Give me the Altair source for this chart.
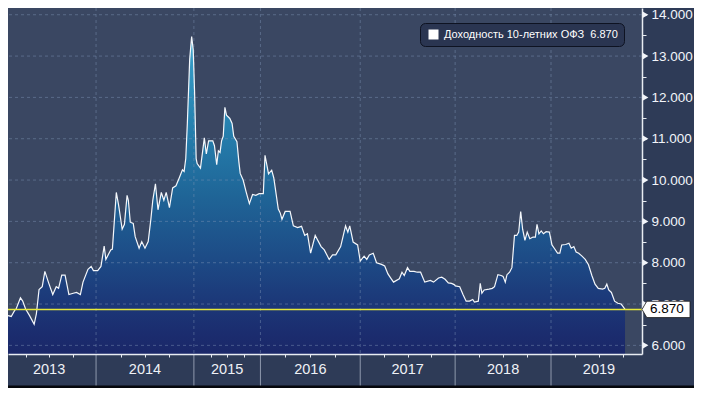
import altair as alt
import pandas as pd

# ---- data (fractional year, yield %) ----
T_2013 = [2013.063, 2013.097, 2013.132, 2013.149, 2013.195, 2013.219, 2013.250, 2013.292, 2013.341, 2013.365,
          2013.393, 2013.427, 2013.455, 2013.497, 2013.539, 2013.576, 2013.601, 2013.635, 2013.670, 2013.711,
          2013.757, 2013.792, 2013.833, 2013.861, 2013.914, 2013.948, 2013.972]
V_2013 = [6.72, 6.70, 6.84, 6.88, 7.15, 7.07, 6.88, 6.72, 6.51, 6.77,
          7.35, 7.42, 7.79, 7.50, 7.23, 7.42, 7.38, 7.70, 7.70, 7.23,
          7.26, 7.28, 7.23, 7.53, 7.84, 7.91, 7.81]
T_2014 = [2014.017, 2014.050, 2014.083, 2014.100, 2014.150, 2014.167, 2014.207, 2014.230, 2014.267, 2014.290,
          2014.317, 2014.330, 2014.350, 2014.380, 2014.400, 2014.440, 2014.467, 2014.500, 2014.533, 2014.560,
          2014.580, 2014.607, 2014.633, 2014.667, 2014.693, 2014.717, 2014.750, 2014.783, 2014.817, 2014.850,
          2014.883, 2014.900, 2014.917, 2014.933, 2014.957, 2014.977, 2014.993]
V_2014 = [7.81, 7.91, 8.40, 8.08, 8.31, 8.33, 9.70, 9.40, 8.81, 8.93,
          9.63, 9.51, 8.98, 8.95, 8.63, 8.35, 8.51, 8.35, 8.51, 9.05,
          9.51, 9.91, 9.28, 9.70, 9.51, 9.70, 9.33, 9.81, 9.86, 10.05,
          10.25, 10.21, 10.52, 11.37, 12.92, 13.47, 13.16]
T_2015 = [2015.010, 2015.034, 2015.049, 2015.099, 2015.157, 2015.187, 2015.221, 2015.284, 2015.309, 2015.343,
          2015.368, 2015.393, 2015.416, 2015.441, 2015.466, 2015.490, 2015.540, 2015.574, 2015.599, 2015.647,
          2015.676, 2015.696, 2015.740, 2015.784, 2015.834, 2015.882, 2015.931, 2015.981]
V_2015 = [12.15, 10.52, 10.40, 10.29, 11.02, 10.63, 10.95, 10.95, 10.83, 10.37,
          10.71, 10.67, 10.95, 11.06, 11.76, 11.57, 11.49, 11.37, 11.06, 10.93,
          10.44, 10.16, 10.00, 9.72, 9.43, 9.65, 9.63, 9.67]
T_2016 = [2016.020, 2016.029, 2016.046, 2016.081, 2016.113, 2016.134, 2016.179, 2016.199, 2016.216, 2016.248,
          2016.297, 2016.330, 2016.373, 2016.412, 2016.444, 2016.471, 2016.503, 2016.549, 2016.608, 2016.640,
          2016.689, 2016.723, 2016.755, 2016.804, 2016.853, 2016.876, 2016.895, 2016.929, 2016.974]
V_2016 = [9.67, 9.67, 10.60, 10.15, 10.24, 10.05, 9.30, 9.20, 9.05, 9.24,
          9.24, 8.89, 8.85, 8.88, 8.66, 8.70, 8.23, 8.66, 8.39, 8.31,
          8.08, 8.19, 8.19, 8.39, 8.89, 8.74, 8.89, 8.50, 8.43]
T_2017 = [2017.000, 2017.041, 2017.069, 2017.096, 2017.137, 2017.172, 2017.224, 2017.258, 2017.292, 2017.327,
          2017.351, 2017.412, 2017.440, 2017.464, 2017.498, 2017.523, 2017.567, 2017.601, 2017.636, 2017.680,
          2017.739, 2017.773, 2017.825, 2017.859, 2017.894, 2017.928, 2017.962, 2017.990]
V_2017 = [8.04, 8.16, 8.08, 8.19, 8.23, 8.00, 7.96, 7.92, 7.73, 7.61,
          7.53, 7.61, 7.77, 7.69, 7.88, 7.79, 7.79, 7.77, 7.77, 7.53,
          7.57, 7.53, 7.63, 7.65, 7.60, 7.51, 7.50, 7.47]
T_2018 = [2018.003, 2018.048, 2018.082, 2018.115, 2018.150, 2018.184, 2018.201, 2018.242, 2018.262, 2018.279,
          2018.303, 2018.354, 2018.388, 2018.411, 2018.446, 2018.480, 2018.500, 2018.523, 2018.541, 2018.568,
          2018.592, 2018.619, 2018.643, 2018.663, 2018.684, 2018.704, 2018.728, 2018.752, 2018.779, 2018.813,
          2018.837, 2018.854, 2018.874, 2018.898, 2018.921, 2018.949, 2018.983]
V_2018 = [7.44, 7.42, 7.23, 7.07, 7.07, 7.11, 7.05, 7.07, 7.50, 7.26,
          7.34, 7.36, 7.38, 7.42, 7.71, 7.69, 7.67, 7.53, 7.71, 7.77,
          7.88, 8.66, 8.66, 8.74, 9.24, 8.81, 8.54, 8.74, 8.58, 8.62,
          8.62, 8.93, 8.70, 8.77, 8.70, 8.75, 8.74]
T_2019 = [2019.010, 2019.034, 2019.068, 2019.092, 2019.112, 2019.153, 2019.187, 2019.211, 2019.238, 2019.262,
          2019.289, 2019.323, 2019.357, 2019.391, 2019.426, 2019.459, 2019.493, 2019.538, 2019.561, 2019.582,
          2019.602, 2019.630, 2019.663, 2019.697, 2019.731, 2019.748, 2019.772]
V_2019 = [8.43, 8.35, 8.23, 8.23, 8.43, 8.44, 8.47, 8.35, 8.39, 8.26,
          8.23, 8.16, 8.08, 7.95, 7.69, 7.48, 7.38, 7.36, 7.38, 7.48,
          7.34, 7.28, 7.07, 7.02, 7.00, 6.95, 6.87]

YEARS = [2013, 2014, 2015, 2016, 2017, 2018, 2019]
YEAR_LABELS = ["2013", "2014", "2015", "2016", "2017", "2018", "2019"]
YEAR_BOUNDS = [2014, 2015, 2016, 2017, 2018, 2019]
Y_MAJOR = [6, 7, 8, 9, 10, 11, 12, 13, 14]
Y_MINOR = [6, 6.5, 7, 7.5, 8, 8.5, 9, 9.5, 10, 10.5, 11, 11.5, 12, 12.5, 13, 13.5, 14]
LAST_VALUE = 6.870
SERIES_NAME = "Доходность 10-летних ОФЗ"

# ---- layout / style ----
W, H = 634, 346
PAD_R, PAD_B = 52, 34
# axis of the original: year boundaries are unevenly spaced (reference pixel positions out of 648)
X_DOMAIN = [2013.0625, 2014, 2015, 2016, 2017, 2018, 2019, 2019.949]
X_STOPS = [0, 90, 190, 258, 360, 457, 555, 648]
X_RANGE = [W * p / 648 for p in X_STOPS]
Y_DOMAIN = [5.791, 14.163]

FONT = "Liberation Sans"

T_ALL = T_2013 + T_2014 + T_2015 + T_2016 + T_2017 + T_2018 + T_2019
V_ALL = V_2013 + V_2014 + V_2015 + V_2016 + V_2017 + V_2018 + V_2019
assert len(T_ALL) == len(V_ALL)

legend_label = SERIES_NAME + "\u00a0\u00a0" + f"{LAST_VALUE:.3f}"
df = pd.DataFrame({"t": T_ALL, "v": V_ALL, "series": legend_label})

xs = alt.Scale(domain=X_DOMAIN, range=X_RANGE, nice=False, zero=False)
ys = alt.Scale(domain=Y_DOMAIN, nice=False, zero=False)

quarters = [y + q for y in YEARS for q in (0.25, 0.5, 0.75)]
x_axis = alt.Axis(values=quarters, labels=False, grid=False, title=None,
                  domainColor="#e8ecf2", domainWidth=1.5, tickColor="#e8ecf2",
                  tickSize=3, tickWidth=1, zindex=1)
y_axis = alt.Axis(orient="right", values=Y_MINOR, grid=False, title=None,
                  domainColor="#e8ecf2", domainWidth=1.5, tickColor="#e8ecf2",
                  tickSize=4, tickWidth=1, labelPadding=5,
                  labelExpr="datum.value % 1 == 0 ? format(datum.value, '.3f') : ''",
                  labelColor="#f2f5fa", labelFont=FONT, labelFontSize=13.5,
                  labelBaseline="middle")

X = alt.X("t:Q", scale=xs, axis=x_axis)
Y = alt.Y("v:Q", scale=ys, axis=y_axis, stack=False)

gradient = alt.Gradient(
    gradient="linear", x1=0, x2=0, y1=0, y2=1,
    stops=[
        alt.GradientStop(color="#56b8da", offset=0.0),
        alt.GradientStop(color="#3499c4", offset=0.08),
        alt.GradientStop(color="#2682b0", offset=0.27),
        alt.GradientStop(color="#1f6597", offset=0.5),
        alt.GradientStop(color="#1d4b86", offset=0.7),
        alt.GradientStop(color="#1c3a7a", offset=0.82),
        alt.GradientStop(color="#1b2c6e", offset=0.94),
        alt.GradientStop(color="#1a2768", offset=1.0),
    ],
)

area = alt.Chart(df).mark_area(color=gradient, opacity=1, fillOpacity=1, clip=True).encode(
    x=X, y=Y, y2=alt.Y2(datum=Y_DOMAIN[0]))

grid_df_h = pd.DataFrame({"g": Y_MAJOR})
grid_df_v = pd.DataFrame({"b": YEAR_BOUNDS})
hgrid = alt.Chart(grid_df_h).mark_rule(color="#8096b8", opacity=0.45, strokeDash=[3, 3], strokeWidth=1).encode(
    y=alt.Y("g:Q", scale=ys, axis=y_axis))
vgrid = alt.Chart(grid_df_v).mark_rule(color="#8096b8", opacity=0.45, strokeDash=[3, 3], strokeWidth=1).encode(
    x=alt.X("b:Q", scale=xs, axis=x_axis))

line = alt.Chart(df).mark_line(strokeWidth=1.2, clip=True).encode(
    x=X, y=Y,
    color=alt.Color("series:N", scale=alt.Scale(range=["#f4f7fb"]),
                    legend=alt.Legend(title=None, orient="none", legendX=412, legendY=15,
                                      fillColor="#2a3551", strokeColor="#0e1322",
                                      cornerRadius=5, padding=6,
                                      symbolType="square", symbolSize=100,
                                      symbolFillColor="#ffffff", symbolStrokeColor="#ffffff",
                                      symbolStrokeWidth=0, symbolOffset=2,
                                      labelColor="#ffffff", labelFont=FONT,
                                      labelFontSize=11, labelLimit=400, labelOffset=5)))

last_df = pd.DataFrame({"v": [LAST_VALUE], "lbl": [f"{LAST_VALUE:.3f}"]})
yellow = alt.Chart(last_df).mark_rule(color="#e6e83a", strokeWidth=1.5).encode(
    y=alt.Y("v:Q", scale=ys, axis=y_axis))

sep = alt.Chart(grid_df_v).mark_rule(color="#8f99ad", strokeWidth=1).encode(
    x=alt.X("b:Q", scale=xs, axis=x_axis), y=alt.value(H + 1), y2=alt.value(H + 32))

yr_df = pd.DataFrame({"mid": [y + 0.5 for y in YEARS], "lbl": YEAR_LABELS})
years = alt.Chart(yr_df).mark_text(color="#eef1f6", font=FONT, fontSize=14.5, baseline="middle").encode(
    x=alt.X("mid:Q", scale=xs, axis=x_axis), y=alt.value(H + 16), text="lbl:N")

strip_df = pd.DataFrame({"k": [0]})
strip = alt.Chart(strip_df).mark_rule(color="#05070c", strokeWidth=3).encode(
    x=alt.value(0), x2=alt.value(W + PAD_R), y=alt.value(H + 33))

tri = alt.Chart(grid_df_h).mark_point(shape="triangle-right", filled=True, size=45, color="#f2f5fa", opacity=1).encode(
    y=alt.Y("g:Q", scale=ys, axis=y_axis), x=alt.value(W + 3.5))

tag = alt.Chart(last_df).mark_point(
    shape="M-1,0 L-0.8,-0.34 L1,-0.34 L1,0.34 L-0.8,0.34 Z",
    filled=True, fill="#ffffff", stroke="#1a1a1a", strokeWidth=0.8, size=48 * 48, opacity=1).encode(
    y=alt.Y("v:Q", scale=ys, axis=y_axis), x=alt.value(W + 24))
tag_text = alt.Chart(last_df).mark_text(align="left", baseline="middle", color="#000000",
                                        font=FONT, fontSize=13.5).encode(
    y=alt.Y("v:Q", scale=ys, axis=y_axis), x=alt.value(W + 8), text="lbl:N")

chart = alt.layer(area, hgrid, vgrid, line, yellow, sep, years, strip, tri, tag, tag_text).properties(
    width=W, height=H,
    padding={"left": 0, "top": 0, "right": PAD_R, "bottom": PAD_B},
    autosize=alt.AutoSizeParams(type="none"),
    background="#2e3b57",
).configure_view(fill="#3a4762", strokeWidth=0)

chart.save("out.html", embed_options={"renderer": "svg", "actions": False})
